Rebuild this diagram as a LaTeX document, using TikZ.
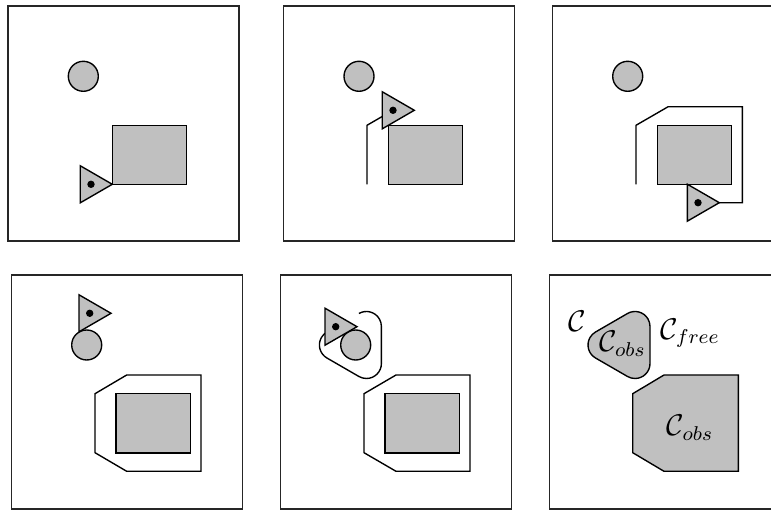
\documentclass[tikz,border=0pt]{standalone}
\usepackage{amsmath}
\definecolor{obsgray}{RGB}{192,192,192}
\tikzset{
  panel/.style={draw=black!85, line width=0.55pt},
  obj/.style={draw=black, fill=obsgray, line width=0.55pt, line join=miter},
  trace/.style={draw=black, line width=0.55pt, line join=miter},
  lbl/.style={inner sep=0pt, font=\fontsize{11.5}{14}\selectfont}
}
\newcommand{\robotat}[2]{%
  \draw[obj] (#1,#2-18.5) -- (#1+32,#2) -- (#1,#2+18.5) -- cycle;
  \fill[black] (#1+10.7,#2) circle (3.7);
}
\newcommand{\diskat}[2]{\draw[obj] (#1,#2) circle (15);}
\begin{document}
\begin{tikzpicture}[x=0.4pt,y=-0.4pt]
\useasboundingbox (0,0) rectangle (771,510);
\clip (0,0) rectangle (771,510);
% ---------- panel 1
\draw[panel] (8,6) rectangle (239,241);
\diskat{83.3}{76.3}
\draw[obj] (112.7,125.3) rectangle (186.7,184.3);
\robotat{80.3}{184.3}
% ---------- panel 2
\draw[panel] (283.3,6) rectangle (514.3,241);
\diskat{359}{76.3}
\draw[obj] (388.3,125.3) rectangle (462.7,184.3);
\draw[trace] (367,184.3) -- (367,125.3) -- (393.3,110.1);
\robotat{382.3}{110.3}
% ---------- panel 3
\draw[panel] (552.7,6) rectangle (783.7,241);
\diskat{627.7}{76.3}
\draw[obj] (657.3,125.3) rectangle (731.7,184.3);
\draw[trace] (636,184.3) -- (636,125.3) -- (668,106.8) -- (742.4,106.8) -- (742.4,202.7) -- (698,202.7);
\robotat{687.3}{202.7}
% ---------- panel 4
\draw[panel] (11.7,275) rectangle (242.3,509);
\draw[trace] (126.7,375) -- (201,375) -- (201,471.3) -- (126.7,471.3) -- (95,452.7) -- (95,393.7) -- cycle;
\draw[obj] (116,393.3) rectangle (190.3,453);
\diskat{86.7}{345}
\robotat{79}{313.3}
% ---------- panel 5
\draw[panel] (280.7,275) rectangle (511.3,509);
\draw[trace] (396,375) -- (470,375) -- (470,471.3) -- (396,471.3) -- (364,452.7) -- (364,393.7) -- cycle;
\draw[obj] (385,393.3) rectangle (459.3,453);
\draw[trace] (358.9,313.5) arc (240:360:15) -- (381.4,363.5) arc (0:120:15) -- (326.9,358) arc (120:240:15);
\diskat{355.7}{345}
\robotat{325}{326.7}
% ---------- panel 6
\draw[panel] (549.3,275) rectangle (780,509);
\draw[obj] (664,375) -- (738.3,375) -- (738.3,471.3) -- (664,471.3) -- (632.7,452.7) -- (632.7,393.7) -- cycle;
\draw[obj] (627.5,313.5) arc (240:360:15) -- (650,363.5) arc (0:120:15) -- (595.5,358) arc (120:240:15) -- cycle;
\node[lbl] (cspace) at (577,321) {$\mathcal{C}$};
\node[lbl] (cfree) at (690,333) {$\mathcal{C}_{free}$};
\node[lbl] (cobs1) at (622.5,344) {$\mathcal{C}_{obs}$};
\node[lbl] (cobs2) at (690,428) {$\mathcal{C}_{obs}$};
\end{tikzpicture}
\end{document}
